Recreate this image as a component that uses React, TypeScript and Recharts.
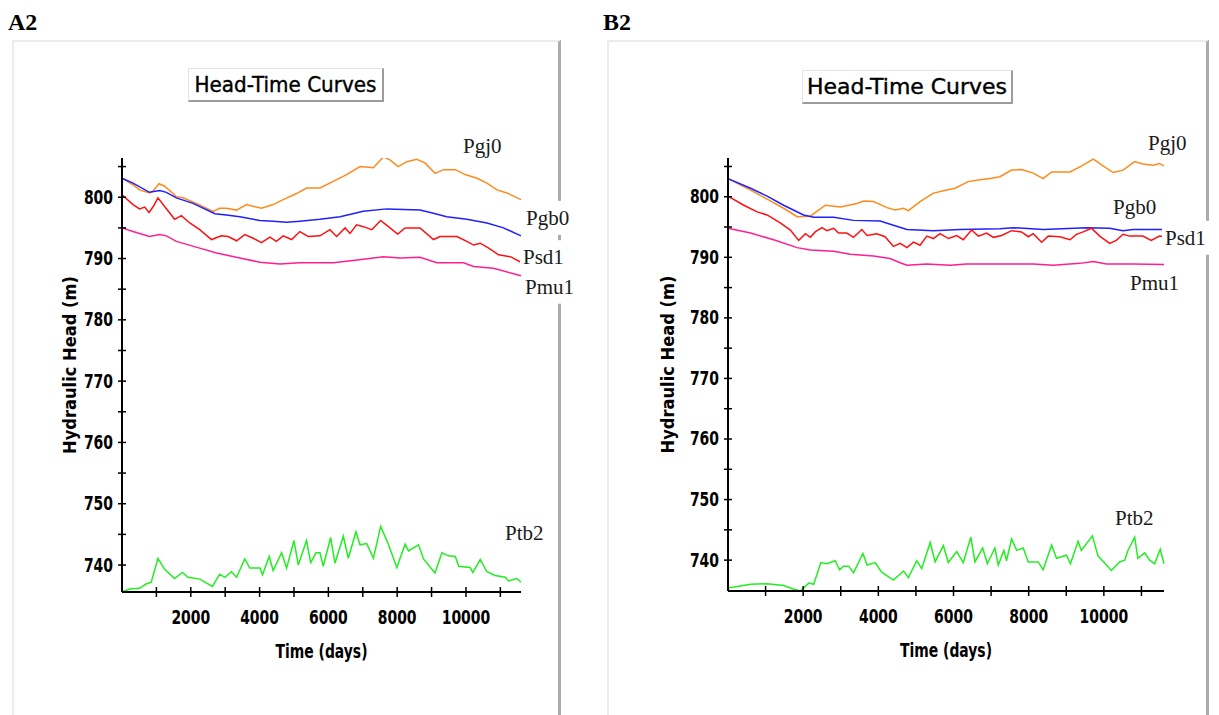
import React from "react";
import { LineChart, Line, XAxis, YAxis } from "recharts";

// shared axis ticks (minor every 1000 d / 5 m, labelled every 2000 d / 10 m)
const dayTicks = [1000, 2000, 3000, 4000, 5000, 6000, 7000, 8000, 9000, 10000, 11000];
const headTicks = [740, 745, 750, 755, 760, 765, 770, 775, 780, 785, 790, 795, 800, 805];

// ---- A2 wells ----
const a2Pgj0Days = [0, 320, 510, 800, 900, 1075, 1240, 1580, 1775, 2160, 2650, 2840, 3035, 3330, 3620, 4055, 4395, 4686, 5075, 5365, 5755, 6140, 6530, 6920, 7310, 7600, 7790, 8030, 8280, 8570, 8810, 9100, 9350, 9690, 9975, 10320, 10610, 10900, 11190, 11600];
const a2Pgj0Head = [803.1, 802.0, 801.2, 800.7, 801.0, 802.2, 801.8, 800.1, 799.9, 799.0, 797.7, 798.2, 798.2, 797.9, 798.8, 798.2, 798.8, 799.6, 800.6, 801.5, 801.5, 802.6, 803.7, 805.0, 804.8, 806.6, 806.1, 805.0, 805.8, 806.2, 805.6, 803.9, 804.5, 804.5, 803.7, 803.1, 802.3, 801.2, 800.7, 799.6];

const a2Pgb0Days = [0, 320, 800, 1095, 1290, 1580, 2065, 2700, 3035, 3425, 4010, 4395, 4785, 5170, 5755, 6340, 7015, 7695, 8665, 9055, 9440, 10025, 10610, 11090, 11600];
const a2Pgb0Head = [803.1, 802.3, 800.8, 801.1, 800.8, 799.9, 799.0, 797.3, 797.1, 796.8, 796.2, 796.1, 795.9, 796.1, 796.4, 796.8, 797.7, 798.1, 797.9, 797.4, 796.8, 796.4, 795.8, 795.0, 793.7];

const a2Psd1Days = [0, 320, 510, 660, 785, 900, 1045, 1240, 1530, 1725, 1970, 2260, 2600, 2890, 3085, 3330, 3570, 3815, 4055, 4300, 4490, 4686, 4930, 5170, 5415, 5755, 6045, 6240, 6485, 6630, 6820, 7015, 7260, 7520, 7745, 8015, 8230, 8665, 9055, 9250, 9735, 10025, 10220, 10415, 10660, 10950, 11290, 11600];
const a2Psd1Head = [800.4, 798.8, 798.1, 798.4, 797.5, 798.4, 799.9, 798.5, 796.4, 797.0, 795.8, 794.7, 793.1, 793.7, 793.6, 792.9, 793.9, 793.3, 792.6, 793.5, 792.8, 793.7, 793.1, 794.4, 793.6, 793.7, 794.7, 793.6, 795.0, 794.1, 795.5, 795.2, 794.7, 796.2, 795.2, 794.0, 795.0, 795.0, 793.1, 793.6, 793.6, 792.8, 792.2, 792.5, 791.7, 790.6, 790.3, 789.4];

const a2Pmu1Days = [0, 320, 800, 1095, 1290, 1580, 2260, 2750, 3425, 4010, 4590, 5170, 6140, 6900, 7600, 8090, 8665, 9150, 9930, 10220, 10800, 11600];
const a2Pmu1Head = [795.0, 794.4, 793.6, 793.9, 793.7, 792.8, 791.7, 790.9, 790.1, 789.4, 789.1, 789.3, 789.3, 789.8, 790.3, 790.1, 790.2, 789.3, 789.3, 788.7, 788.4, 787.2];

const a2Ptb2Days = [0, 220, 510, 700, 850, 1045, 1240, 1530, 1755, 1920, 2260, 2630, 2840, 2990, 3180, 3330, 3570, 3715, 4010, 4085, 4280, 4395, 4640, 4785, 5000, 5125, 5365, 5485, 5640, 5755, 5850, 6065, 6190, 6435, 6580, 6800, 6920, 7115, 7310, 7520, 7745, 7990, 8230, 8330, 8620, 8765, 9100, 9300, 9490, 9690, 9790, 10120, 10200, 10415, 10610, 10850, 11140, 11240, 11480, 11600];
const a2Ptb2Head = [735.6, 736.1, 736.2, 736.9, 737.2, 741.1, 739.3, 737.8, 738.8, 738.0, 737.7, 736.5, 738.5, 738.0, 738.9, 738.0, 741.0, 739.5, 739.5, 738.4, 741.4, 739.1, 742.0, 739.5, 744.0, 740.0, 744.0, 740.4, 742.0, 742.0, 739.8, 744.5, 740.3, 744.7, 741.1, 745.4, 743.3, 743.5, 741.1, 746.3, 743.4, 739.6, 743.4, 742.3, 743.3, 741.0, 738.7, 742.0, 741.5, 741.4, 739.8, 739.6, 738.8, 740.9, 738.9, 738.3, 738.0, 737.4, 737.8, 737.2];

// ---- B2 wells ----
const b2Pgj0Days = [0, 600, 1040, 1480, 1840, 2190, 2590, 2990, 3430, 3610, 3870, 4230, 4450, 4670, 4800, 5110, 5465, 5820, 6040, 6390, 6700, 6970, 7235, 7545, 7810, 8120, 8385, 8610, 8830, 9100, 9410, 9720, 9980, 10245, 10510, 10820, 11040, 11310, 11480, 11600];
const b2Pgj0Head = [803.0, 801.1, 799.6, 798.1, 796.7, 796.8, 798.6, 798.3, 798.9, 799.3, 799.2, 798.2, 797.8, 798.1, 797.7, 799.2, 800.6, 801.1, 801.4, 802.5, 802.8, 803.0, 803.3, 804.4, 804.5, 803.9, 803.0, 804.1, 804.1, 804.1, 805.1, 806.2, 805.1, 804.0, 804.4, 805.8, 805.4, 805.2, 805.5, 805.1];

const b2Pgb0Days = [0, 600, 1040, 1480, 2010, 2280, 2810, 3340, 4050, 4400, 4760, 5465, 6170, 7235, 7590, 8385, 9540, 10155, 10510, 10775, 11600];
const b2Pgb0Head = [803.0, 801.4, 800.1, 798.6, 797.0, 796.6, 796.6, 796.1, 796.0, 795.3, 794.6, 794.4, 794.6, 794.7, 794.9, 794.6, 794.9, 794.8, 794.4, 794.6, 794.6];

const b2Psd1Days = [0, 420, 775, 1040, 1390, 1660, 1880, 2060, 2190, 2320, 2500, 2630, 2810, 2940, 3160, 3340, 3560, 3700, 3960, 4180, 4400, 4580, 4760, 4935, 5110, 5290, 5465, 5640, 5865, 6085, 6260, 6480, 6660, 6880, 7060, 7280, 7545, 7810, 7990, 8120, 8345, 8520, 8830, 9100, 9270, 9450, 9670, 9890, 10155, 10330, 10510, 10685, 11040, 11260, 11480, 11600];
const b2Psd1Head = [800.1, 798.6, 797.5, 797.0, 795.7, 794.5, 792.8, 793.9, 793.3, 794.2, 794.9, 794.4, 794.8, 794.0, 794.0, 793.3, 794.6, 793.6, 793.9, 793.4, 791.8, 792.3, 791.6, 792.5, 792.0, 793.5, 793.1, 793.9, 793.1, 793.6, 792.9, 794.5, 793.5, 794.0, 793.3, 793.6, 794.4, 794.2, 793.4, 793.9, 792.5, 793.5, 793.4, 792.9, 793.8, 794.2, 794.8, 793.5, 792.3, 792.8, 793.8, 793.5, 793.5, 792.8, 793.5, 793.4];

const b2Pmu1Days = [0, 600, 1215, 1840, 2190, 2810, 3250, 3870, 4310, 4580, 4760, 5290, 5910, 6350, 7235, 8120, 8650, 9360, 9720, 10065, 10775, 11600];
const b2Pmu1Head = [794.8, 794.0, 792.9, 791.6, 791.2, 791.0, 790.5, 790.2, 789.8, 789.1, 788.7, 788.9, 788.7, 788.9, 788.9, 788.9, 788.7, 789.0, 789.3, 788.9, 788.9, 788.8];

const b2Ptb2Days = [0, 600, 1040, 1480, 1750, 1925, 2150, 2280, 2470, 2630, 2850, 2970, 3075, 3210, 3340, 3590, 3700, 3915, 4090, 4400, 4670, 4800, 5020, 5155, 5380, 5510, 5730, 5860, 6085, 6260, 6460, 6570, 6775, 6900, 7100, 7190, 7340, 7410, 7545, 7680, 7855, 7990, 8255, 8385, 8610, 8740, 9005, 9110, 9315, 9400, 9695, 9845, 10200, 10420, 10555, 10640, 10820, 10905, 11085, 11220, 11350, 11500, 11600];
const b2Ptb2Head = [735.4, 736.0, 736.1, 735.8, 735.2, 734.9, 736.2, 736.0, 739.6, 739.4, 739.9, 738.4, 739.0, 739.0, 737.9, 741.1, 739.2, 739.6, 738.0, 736.7, 738.2, 737.1, 739.9, 738.6, 742.9, 739.7, 742.4, 739.6, 741.4, 739.6, 743.8, 739.7, 742.0, 739.4, 742.0, 739.2, 741.6, 739.9, 743.5, 741.6, 742.0, 739.7, 739.7, 738.4, 742.5, 740.3, 740.8, 739.4, 743.1, 741.6, 744.0, 740.7, 738.3, 739.7, 740.0, 741.6, 743.8, 740.3, 741.2, 740.0, 739.4, 741.8, 739.4];

const COLORS = {
  Pgj0: "#ff8a1c",
  Pgb0: "#1f1fff",
  Psd1: "#ff1010",
  Pmu1: "#ff1f8f",
  Ptb2: "#22ee22",
};

const narrow = "'Liberation Sans Narrow', 'Arial Narrow', 'DejaVu Sans Condensed', sans-serif";
const serif = "'Liberation Serif', 'Times New Roman', serif";
const DIGIT_W = 9.7; // squeezed digit width for the tick numbers

type Series = {
  name: keyof typeof COLORS;
  days: number[];
  head: number[];
  dx: number; // name tag offset from the last point
  dy: number;
  bg?: boolean; // tag sits over the frame edge
};

type Panel = {
  id: string;
  left: number;
  width: number;
  margin: { top: number; right: number; bottom: number; left: number };
  yDomain: [number, number];
  yLabelX: number;
  frame: { left: number; width: number };
  title: { left: number; top: number; width: number; text: number };
  series: Series[];
};

const panels: Panel[] = [
  {
    id: "A2",
    left: 0,
    width: 600,
    margin: { top: 158, right: 79, bottom: 93, left: 62 },
    yDomain: [735.6, 806.4],
    yLabelX: 70,
    frame: { left: 12, width: 549 },
    title: { left: 188, top: 68, width: 196, text: 182 },
    series: [
      { name: "Pgj0", days: a2Pgj0Days, head: a2Pgj0Head, dx: -58, dy: -54 },
      { name: "Pgb0", days: a2Pgb0Days, head: a2Pgb0Head, dx: 5, dy: -18, bg: true },
      { name: "Psd1", days: a2Psd1Days, head: a2Psd1Head, dx: 2, dy: -5, bg: true },
      { name: "Pmu1", days: a2Pmu1Days, head: a2Pmu1Head, dx: 4, dy: 11, bg: true },
      { name: "Ptb2", days: a2Ptb2Days, head: a2Ptb2Head, dx: -16, dy: -49 },
    ],
  },
  {
    id: "B2",
    left: 600,
    width: 619,
    margin: { top: 158, right: 55, bottom: 94, left: 68 },
    yDomain: [734.9, 806.4],
    yLabelX: 68,
    frame: { left: 607, width: 602 },
    title: { left: 802, top: 70, width: 211, text: 200 },
    series: [
      { name: "Pgj0", days: b2Pgj0Days, head: b2Pgj0Head, dx: -16, dy: -23 },
      { name: "Pgb0", days: b2Pgb0Days, head: b2Pgb0Head, dx: -51, dy: -22 },
      { name: "Psd1", days: b2Psd1Days, head: b2Psd1Head, dx: 1, dy: 1, bg: true },
      { name: "Pmu1", days: b2Pmu1Days, head: b2Pmu1Head, dx: -34, dy: 18 },
      { name: "Ptb2", days: b2Ptb2Days, head: b2Ptb2Head, dx: -49, dy: -46 },
    ],
  },
];

const zip = (days: number[], head: number[]) => days.map((day, i) => ({ day, head: head[i] }));

function TickText({ x, y, anchor, children }: { x: number; y: number; anchor: "end" | "middle"; children: number }) {
  const s = String(children);
  return (
    <text
      x={x}
      y={y}
      textAnchor={anchor}
      dominantBaseline="central"
      textLength={s.length * DIGIT_W}
      lengthAdjust="spacingAndGlyphs"
      fontFamily={narrow}
      fontWeight="bold"
      fontSize={19.5}
      fill="#000"
    >
      {s}
    </text>
  );
}

function YTick(props: any) {
  const { x, y, payload } = props;
  const v = payload.value;
  return (
    <g>
      <line x1={x - 4} x2={x + 4} y1={y} y2={y} stroke="#000" strokeWidth={1.5} />
      {v % 10 === 0 && (
        <TickText x={x - 9} y={y} anchor="end">
          {v}
        </TickText>
      )}
    </g>
  );
}

function XTick(props: any) {
  const { x, y, payload } = props;
  const v = payload.value;
  return (
    <g>
      <line x1={x} x2={x} y1={y - 5} y2={y + 5} stroke="#000" strokeWidth={1.5} />
      {v % 2000 === 0 && (
        <TickText x={x} y={y + 25} anchor="middle">
          {v}
        </TickText>
      )}
    </g>
  );
}

function nameTag(s: Series) {
  const last = s.days.length - 1;
  return (p: any) => {
    if (p.index !== last) return null;
    const px = p.viewBox?.x ?? p.x;
    const py = p.viewBox?.y ?? p.y;
    const x = px + s.dx;
    const y = py + s.dy;
    return (
      <g key={s.name}>
        {s.bg && <rect x={x - 3} y={y - 17} width={48} height={34} fill="#fff" />}
        <text x={x} y={y} dominantBaseline="central" fontFamily={serif} fontSize={21} fill="#1a1a1a">
          {s.name}
        </text>
      </g>
    );
  };
}

function HeadChart({ panel }: { panel: Panel }) {
  return (
    <div style={{ position: "absolute", left: panel.left, top: 0 }}>
      <LineChart width={panel.width} height={715} margin={panel.margin} style={{ overflow: "visible" }}>
        <XAxis
          type="number"
          dataKey="day"
          domain={[0, 11600]}
          ticks={dayTicks}
          interval={0}
          height={30}
          tickSize={0}
          tickMargin={0}
          tickLine={false}
          axisLine={{ stroke: "#000", strokeWidth: 2 }}
          tick={XTick}
          label={{
            content: (p: any) => {
              const vb = p.viewBox;
              return (
                <text
                  x={vb.x + vb.width / 2}
                  y={vb.y + 59}
                  textAnchor="middle"
                  dominantBaseline="central"
                  textLength={92}
                  lengthAdjust="spacingAndGlyphs"
                  fontFamily={narrow}
                  fontWeight="bold"
                  fontSize={19.5}
                  fill="#000"
                >
                  Time (days)
                </text>
              );
            },
          }}
        />
        <YAxis
          type="number"
          domain={panel.yDomain}
          ticks={headTicks}
          interval={0}
          width={60}
          tickSize={0}
          tickMargin={0}
          tickLine={false}
          allowDataOverflow
          axisLine={{ stroke: "#000", strokeWidth: 2 }}
          tick={YTick}
          label={{
            content: (p: any) => {
              const vb = p.viewBox;
              const cy = vb.y + vb.height / 2 - 10;
              return (
                <text
                  x={panel.yLabelX}
                  y={cy}
                  transform={`rotate(-90 ${panel.yLabelX} ${cy})`}
                  textAnchor="middle"
                  dominantBaseline="central"
                  textLength={178}
                  lengthAdjust="spacingAndGlyphs"
                  fontFamily={narrow}
                  fontWeight="bold"
                  fontSize={17}
                  fill="#000"
                >
                  Hydraulic Head (m)
                </text>
              );
            },
          }}
        />
        {panel.series.map((s) => (
          <Line
            key={s.name}
            data={zip(s.days, s.head)}
            dataKey="head"
            type="linear"
            stroke={COLORS[s.name]}
            strokeWidth={1.5}
            dot={false}
            activeDot={false}
            isAnimationActive={false}
            label={nameTag(s)}
          />
        ))}
      </LineChart>
    </div>
  );
}

function TitleBox({ panel }: { panel: Panel }) {
  const t = panel.title;
  return (
    <div
      style={{
        position: "absolute",
        left: t.left,
        top: t.top,
        width: t.width,
        height: 34,
        boxSizing: "border-box",
        background: "#fff",
        borderTop: "1px solid #e4e4e4",
        borderLeft: "1px solid #e4e4e4",
        borderRight: "2px solid #9c9c9c",
        borderBottom: "2px solid #9c9c9c",
      }}
    >
      <svg width={t.width - 3} height={31} style={{ display: "block" }}>
        <text
          x={(t.width - 3) / 2}
          y={16}
          textAnchor="middle"
          dominantBaseline="central"
          textLength={t.text}
          lengthAdjust="spacingAndGlyphs"
          fontFamily={narrow}
          fontSize={21}
          fill="#000"
          stroke="#000"
          strokeWidth={0.35}
        >
          Head-Time Curves
        </text>
      </svg>
    </div>
  );
}

export default function App() {
  return (
    <div style={{ position: "absolute", left: 0, top: 0, width: 1219, height: 715, background: "#fff", overflow: "hidden" }}>
      {panels.map((p) => (
        <React.Fragment key={p.id}>
          <div
            style={{
              position: "absolute",
              left: p.frame.left,
              top: 40,
              width: p.frame.width,
              height: 690,
              boxSizing: "border-box",
              borderTop: "2px solid #ececec",
              borderLeft: "2px solid #ececec",
              borderRight: "3px solid #ababab",
            }}
          />
          <div
            style={{
              position: "absolute",
              left: p.frame.left - 4,
              top: 10,
              fontFamily: serif,
              fontWeight: "bold",
              fontSize: 24,
              lineHeight: "24px",
              color: "#000",
            }}
          >
            {p.id}
          </div>
          <TitleBox panel={p} />
          <HeadChart panel={p} />
        </React.Fragment>
      ))}
    </div>
  );
}
